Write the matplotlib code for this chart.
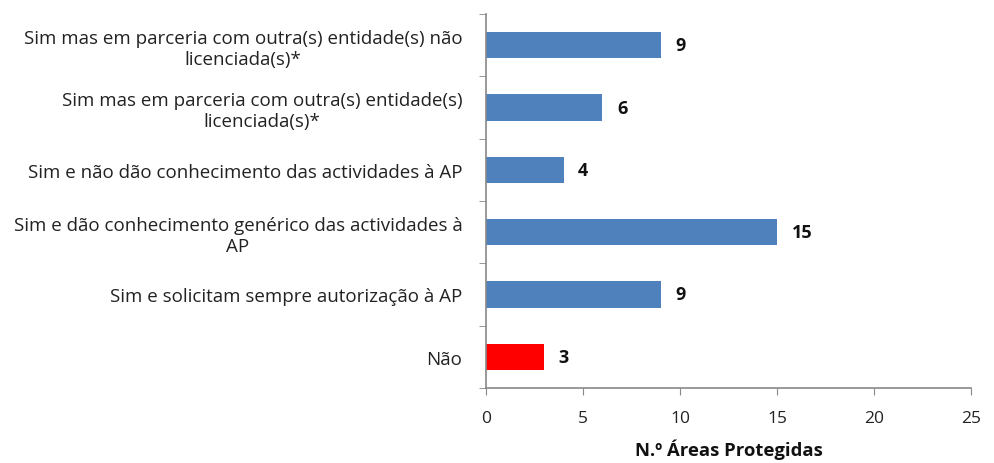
import matplotlib
matplotlib.use("Agg")
import matplotlib.pyplot as plt
import numpy as np

categories = [
    "Sim mas em parceria com outra(s) entidade(s) não\nlicenciada(s)*",
    "Sim mas em parceria com outra(s) entidade(s)\nlicenciada(s)*",
    "Sim e não dão conhecimento das actividades à AP",
    "Sim e dão conhecimento genérico das actividades à\nAP",
    "Sim e solicitam sempre autorização à AP",
    "Não",
]
values = [9, 6, 4, 15, 9, 3]
colors = ["#4F81BD", "#4F81BD", "#4F81BD", "#4F81BD", "#4F81BD", "#FF0000"]
xticks = [0, 5, 10, 15, 20, 25]
xlabel = "N.º Áreas Protegidas"

plt.rcParams['font.family'] = ['Open Sans', 'DejaVu Sans']

fig = plt.figure(figsize=(9.94, 4.64), dpi=100)
ax = fig.add_axes([486/994, 1-389/464, (971-486)/994, (389-15)/464])

y = np.arange(len(categories))
ax.barh(y, values, height=0.42, color=colors, edgecolor="none")
ax.set_ylim(len(categories)-0.5, -0.5)
ax.set_xlim(0, 25)
ax.set_xticks(xticks)
ax.set_xticklabels([str(t) for t in xticks], fontsize=12.5, color="#222222")
ax.set_yticks(y)
ax.set_yticklabels(categories, fontsize=13.5, color="#222222")
for lbl in ax.get_yticklabels():
    lbl.set_multialignment("center")
    lbl.set_linespacing(1.2)
ax.set_yticks(np.arange(-0.5, len(categories)), minor=True)
ax.tick_params(axis="y", which="major", length=0, pad=17)
ax.tick_params(axis="y", which="minor", length=5, color="#888888", direction="out")
ax.tick_params(axis="x", length=5, color="#888888", direction="out", pad=11)

for s in ["top", "right"]:
    ax.spines[s].set_visible(False)
for s in ["left", "bottom"]:
    ax.spines[s].set_color("#888888")
    ax.spines[s].set_linewidth(1.2)

for yi, v in zip(y, values):
    ax.text(v + 0.75, yi, str(v), va="center", ha="left", fontsize=13, fontweight="bold", color="#111111")

ax.set_xlabel(xlabel, fontsize=13.3, fontweight="bold", color="#111111", labelpad=9)

fig.savefig("out.png", dpi=100)
